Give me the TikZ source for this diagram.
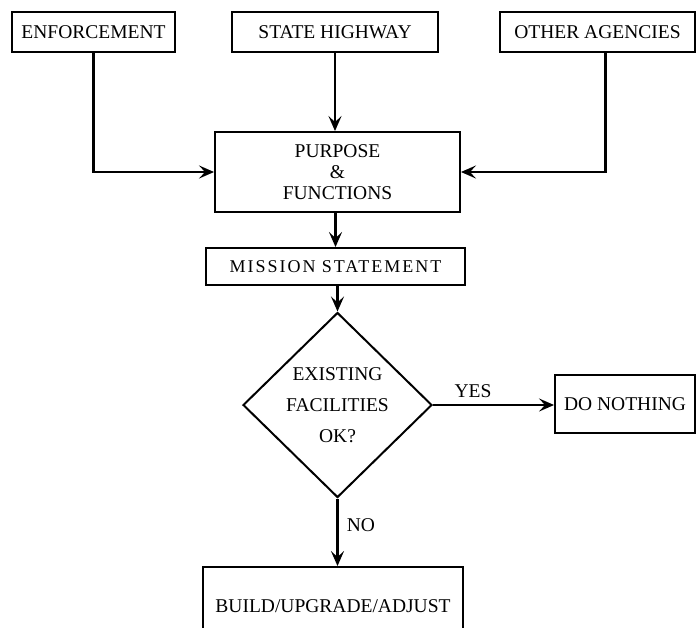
\documentclass[tikz,border=0pt]{standalone}
\usepackage{fontspec}
\setmainfont{Liberation Serif}
\usetikzlibrary{shapes.geometric,arrows.meta}

\tikzset{
  blk/.style={draw, line width=1.9pt, inner sep=0pt, align=center},
  flow/.style={line width=2.1pt, -{Stealth[length=15pt,width=13pt,inset=6pt]}},
}

\begin{document}
\begin{tikzpicture}[x=1pt,y=-1pt,font=\fontsize{19.5}{21}\selectfont]
\useasboundingbox (0,0) rectangle (696,627);
\clip (0,0) rectangle (696,627);
% sources
\node[blk, minimum width=163pt, minimum height=40pt] (enf) at (93.5,32) {ENFORCEMENT};
\node[blk, minimum width=206pt, minimum height=40pt] (hwy) at (335,32) {STATE HIGHWAY};
\node[blk, minimum width=195pt, minimum height=40pt] (oth) at (597.5,32) {OTHER AGENCIES};
\node[blk, minimum width=245pt, minimum height=80pt] (purp) at (337.5,172) {PURPOSE\\\&\\FUNCTIONS};
\node[blk, minimum width=259pt, minimum height=37pt,
  font=\fontsize{18}{20}\selectfont\addfontfeature{LetterSpace=11}] (miss) at (335.5,266.5) {MISSION STATEMENT};
% decision
\node[diamond, draw, line width=2pt, aspect=1, inner sep=0pt, minimum width=189pt, minimum height=185pt,
  align=center, font=\fontsize{19.5}{31}\selectfont] (chk) at (337.5,405) {EXISTING\\FACILITIES\\OK?};
\node[blk, minimum width=140pt, minimum height=58pt] (none) at (625,404) {DO NOTHING};
\node[blk, minimum width=260pt, minimum height=78pt] (build) at (333,606) {BUILD/UPGRADE/ADJUST};
% connectors
\draw[flow] (enf.south) |- (purp.west);
\draw[flow] (hwy.south) -- (hwy.south |- purp.north);
\draw[flow] ([xshift=8pt]oth.south) |- (purp.east);
\draw[flow] (purp.south -| miss.north) -- (miss.north);
\draw[flow] (miss.south) -- (miss.south -| chk.north) -- (chk.north);
\draw[flow] (chk.east) -- node[pos=0.33, above=3pt] {YES} (chk.east -| none.west);
\draw[flow] (chk.south) -- node[pos=0.4, right=5pt] {NO} (chk.south |- build.north);
\end{tikzpicture}
\end{document}
